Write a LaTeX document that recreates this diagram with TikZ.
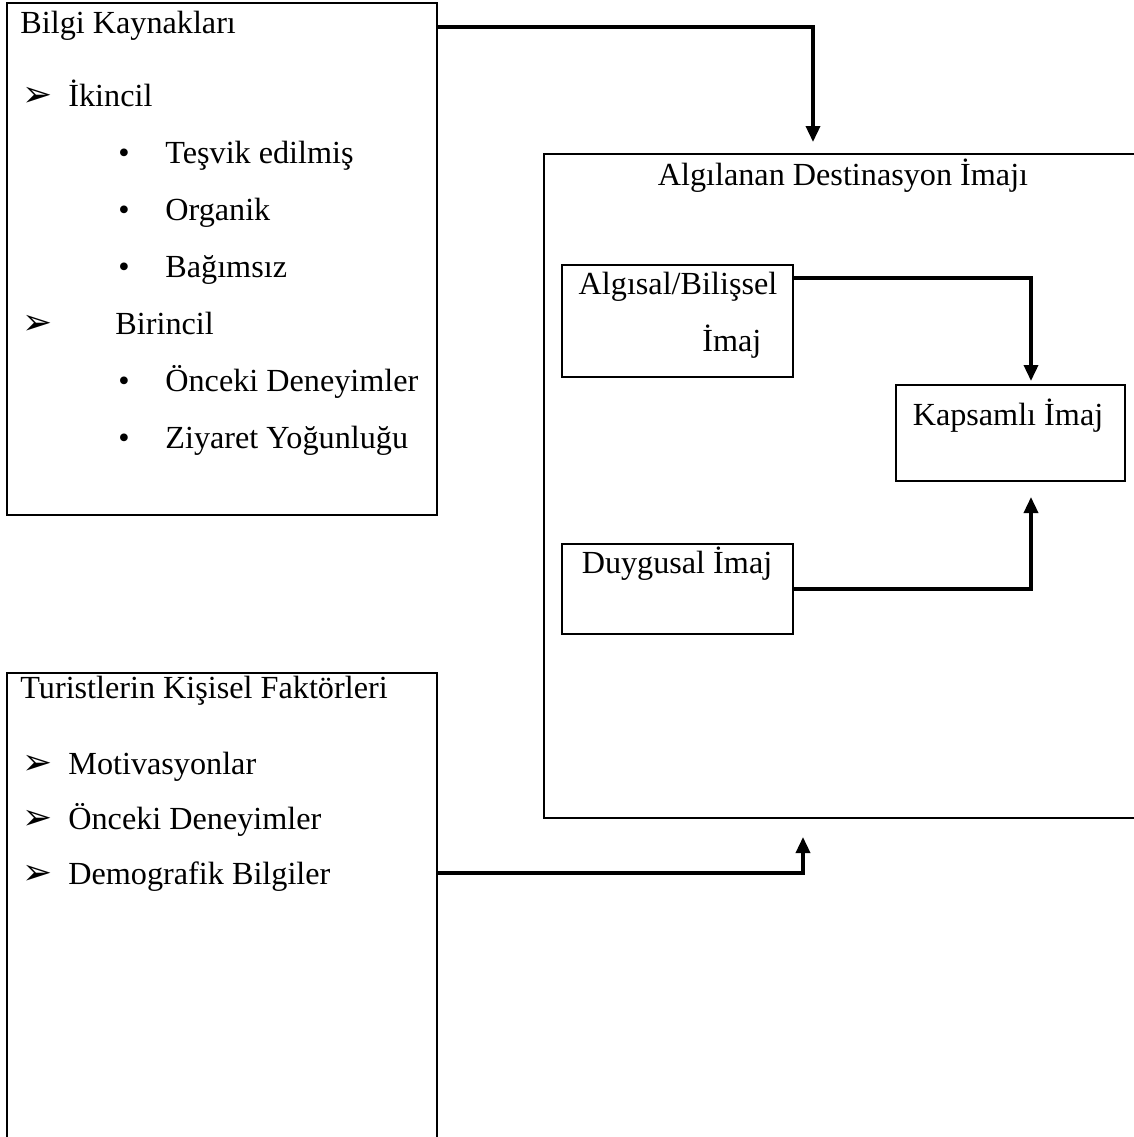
\documentclass[tikz,border=0pt]{standalone}
\usepackage{fontspec}
\setmainfont{Liberation Serif}
\newfontfamily\symfont{DejaVu Sans}
\usetikzlibrary{arrows.meta}
\begin{document}
\begin{tikzpicture}[x=0.5pt,y=-0.5pt,
  box/.style={draw, line width=1.25pt, inner sep=0pt, outer sep=0pt, anchor=north west},
  arrow/.style={line width=1.75pt, -{Triangle[width=7pt,length=8pt]}},
  txt/.style={anchor=base west, inner sep=0pt, font=\fontsize{16.1pt}{19pt}\selectfont},
  ctxt/.style={anchor=base, inner sep=0pt, font=\fontsize{16.1pt}{19pt}\selectfont},
  arrowbullet/.style={anchor=base west, inner sep=0pt, font=\symfont\fontsize{18pt}{19pt}\selectfont},
  dotbullet/.style={anchor=base west, inner sep=0pt, font=\fontsize{16.1pt}{19pt}\selectfont}]
\useasboundingbox (0,0) rectangle (1134,1137);
\clip (0,0) rectangle (1134,1137);

% boxes
\node[box, minimum width=215pt, minimum height=256pt] (src) at (7,3) {};
\node[box, minimum width=300.5pt, minimum height=332pt] (dest) at (544,154) {};
\node[box, minimum width=115.5pt, minimum height=56pt] (alg) at (562,265) {};
\node[box, minimum width=114.5pt, minimum height=48pt] (kap) at (896,385) {};
\node[box, minimum width=115.5pt, minimum height=45pt] (duy) at (562,544) {};
\node[box, minimum width=215pt, minimum height=240pt] (tur) at (7,673) {};

% information sources
\node[txt] (s0) at (20,33) {Bilgi Kaynakları};
\node[arrowbullet] (sb1) at (22,106) {➢};
\node[txt] (s1) at (68,106) {İkincil};
\node[dotbullet] (sd1) at (118,163) {•};
\node[txt] (s2) at (165,163) {Teşvik edilmiş};
\node[dotbullet] (sd2) at (118,220) {•};
\node[txt] (s3) at (165,220) {Organik};
\node[dotbullet] (sd3) at (118,277) {•};
\node[txt] (s4) at (165,277) {Bağımsız};
\node[arrowbullet] (sb2) at (22,334) {➢};
\node[txt] (s5) at (115,334) {Birincil};
\node[dotbullet] (sd4) at (118,391) {•};
\node[txt] (s6) at (165,391) {Önceki Deneyimler};
\node[dotbullet] (sd5) at (118,448) {•};
\node[txt] (s7) at (165,448) {Ziyaret Yoğunluğu};

% perceived image
\node[ctxt] (d0) at (843,185) {Algılanan Destinasyon İmajı};
\node[ctxt] (a1) at (678,294) {Algısal/Bilişsel};
\node[txt] (a2) at (702,351) {İmaj};
\node[ctxt] (k1) at (1008,425) {Kapsamlı İmaj};
\node[ctxt] (u1) at (677,573) {Duygusal İmaj};

% personal factors
\node[txt] (t0) at (20,698) {Turistlerin Kişisel Faktörleri};
\node[arrowbullet] (tb1) at (22,774) {➢};
\node[txt] (t1) at (68,774) {Motivasyonlar};
\node[arrowbullet] (tb2) at (22,829) {➢};
\node[txt] (t2) at (68,829) {Önceki Deneyimler};
\node[arrowbullet] (tb3) at (22,884) {➢};
\node[txt] (t3) at (68,884) {Demografik Bilgiler};

% arrow end points
\coordinate (tip1) at (813,142);
\coordinate (tip2) at (1031,381);
\coordinate (tip3) at (1031,497);
\coordinate (tip4) at (803,837);

% connectors
\draw[arrow] ([yshift=-12pt]src.north east) -| (tip1);
\draw[arrow] ([yshift=-6.5pt]alg.north east) -| (tip2);
\draw[arrow] (duy.east) -| (tip3);
\draw[arrow] ([yshift=-100pt]tur.north east) -| (tip4);
\end{tikzpicture}
\end{document}
